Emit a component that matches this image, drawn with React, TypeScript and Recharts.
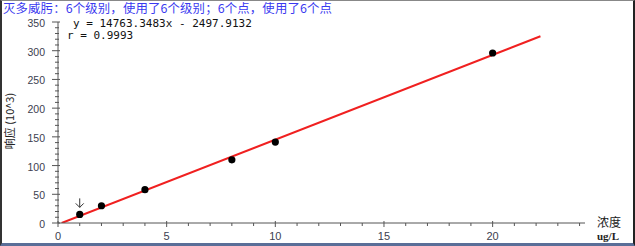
import React from "react";
import { ComposedChart, Line, Scatter, XAxis, YAxis } from "recharts";

// calibration levels (ug/L) and measured responses (10^3)
const levels = [1, 2, 4, 8, 10, 20];
const responses = [15, 30, 58, 110, 141, 296];

// fitted curve: y = 14763.3483x - 2497.9132 (raw units)
const slope = 14763.3483;
const intercept = -2497.9132;
const fitRange = [0.1692, 22.2];

const xTicks = Array.from({ length: 25 }, (_, i) => i);
const yTicks = Array.from({ length: 36 }, (_, i) => i * 10);

const title = "灭多威肟：6个级别，使用了6个级别；6个点，使用了6个点";
const equation = "y = 14763.3483x - 2497.9132";
const corr = "r = 0.9993";

const points = levels.map((x, i) => ({ x, y: responses[i] }));
const fitLine = fitRange.map((x) => ({ x, y: (slope * x + intercept) / 1000 }));

const axisColor = "#555";
const labelColor = "#3c4150";

const XTick = (props: any) => {
  const { x, y, payload } = props;
  const major = payload.value % 5 === 0;
  return (
    <g>
      <line x1={x} x2={x} y1={y - (major ? 2 : 0)} y2={y + (major ? 4 : 3)} stroke={axisColor} />
      {major && (
        <text x={x} y={y + 17} textAnchor="middle" fontSize={11} fill={labelColor} fontFamily="Liberation Sans, Arial">
          {payload.value}
        </text>
      )}
    </g>
  );
};

const YTick = (props: any) => {
  const { x, y, payload } = props;
  const major = payload.value % 50 === 0;
  return (
    <g>
      <line x1={x - (major ? 6 : 3)} x2={x + (major ? 2 : 1)} y1={y} y2={y} stroke={axisColor} />
      {major && (
        <text x={x - 13} y={y + 5} textAnchor="end" fontSize={10.5} fill={labelColor} fontFamily="Liberation Sans, Arial">
          {payload.value}
        </text>
      )}
    </g>
  );
};

// black dots, the lowest level carries a small arrow marker
const Dot = (props: any) => {
  const { cx, cy, index } = props;
  return (
    <g>
      <circle cx={cx} cy={cy} r={3.6} fill="#000" />
      {index === 0 && (
        <g stroke="#333" strokeWidth={1} fill="none">
          <line x1={cx} x2={cx} y1={cy - 16} y2={cy - 7} />
          <polyline points={`${cx - 4},${cy - 11} ${cx},${cy - 7} ${cx + 4},${cy - 11}`} />
        </g>
      )}
    </g>
  );
};

export default function App() {
  return (
    <div
      style={{
        position: "absolute",
        left: 0,
        top: 0,
        width: 635,
        height: 246,
        boxSizing: "border-box",
        background: "#fff",
        borderLeft: "2px solid #333",
        borderTop: "1px solid #888",
        borderRight: "2px solid #222",
        borderBottom: "3px solid #5a6e98",
      }}
    >
      <div
        style={{
          position: "absolute",
          left: 1,
          top: 1,
          fontSize: 12.4,
          lineHeight: "13px",
          color: "#3a3af0",
          fontFamily: "Noto Sans CJK SC",
          whiteSpace: "nowrap",
          letterSpacing: 0.15,
        }}
      >
        {title}
      </div>
      <div style={{ position: "absolute", left: -2, top: -1 }}>
        <ComposedChart width={635} height={246} margin={{ top: 22, right: 50, bottom: 0, left: 0 }}>
          <XAxis
            dataKey="x"
            type="number"
            domain={[0, 24.25]}
            ticks={xTicks}
            interval={0}
            stroke={axisColor}
            tickLine={false}
            tickSize={0}
            tickMargin={0}
            tick={<XTick />}
            height={23}
            allowDataOverflow
          />
          <YAxis
            dataKey="y"
            type="number"
            domain={[0, 350]}
            ticks={yTicks}
            interval={0}
            stroke={axisColor}
            tickLine={false}
            tickSize={0}
            tickMargin={0}
            tick={<YTick />}
            width={58}
            allowDataOverflow
          />
          <Line
            data={fitLine}
            dataKey="y"
            stroke="#f02020"
            strokeWidth={2}
            dot={false}
            activeDot={false}
            isAnimationActive={false}
          />
          <Scatter data={points} dataKey="y" shape={<Dot />} isAnimationActive={false} />
          <text x={73} y={27} fontSize={11} fontFamily="DejaVu Sans Mono" fill="#111">
            {equation}
          </text>
          <text x={67} y={39} fontSize={11} fontFamily="DejaVu Sans Mono" fill="#111">
            {corr}
          </text>
          <text
            x={14}
            y={121}
            transform="rotate(-90 14 121)"
            textAnchor="middle"
            fontSize={11}
            fontFamily="Noto Sans CJK SC"
            fill="#222"
          >
            响应 (10^3)
          </text>
          <text x={597} y={227} fontSize={12} fontFamily="Noto Sans CJK SC" fill="#222">
            浓度
          </text>
          <text x={597} y={240} fontSize={11} fontFamily="Liberation Serif" fontWeight="bold" fill="#222">
            ug/L
          </text>
        </ComposedChart>
      </div>
    </div>
  );
}
